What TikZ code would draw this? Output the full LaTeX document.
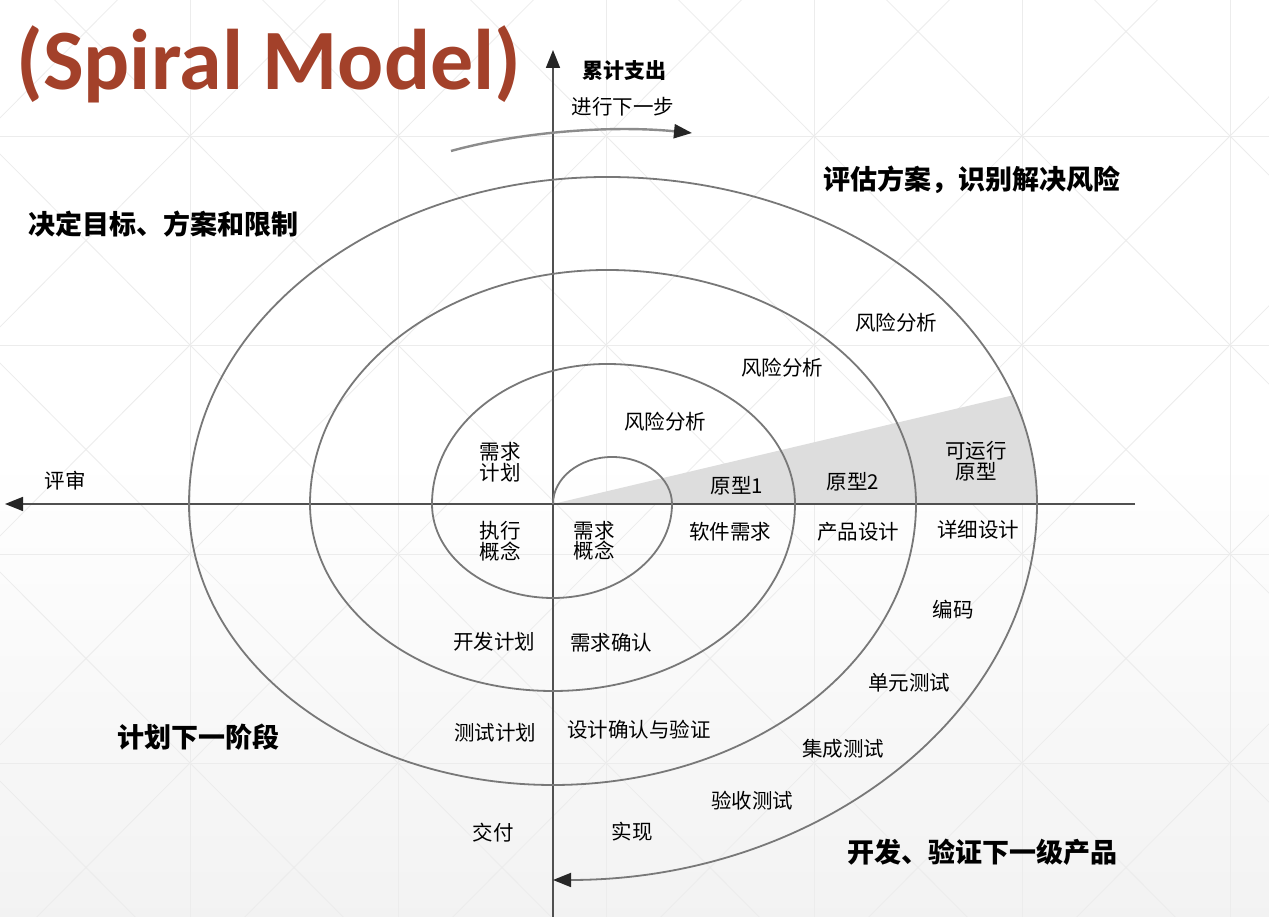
\documentclass[tikz,border=0pt]{standalone}
\usepackage{fontspec}
\newfontfamily\cjk{Noto Sans CJK SC}
\newfontfamily\titlefont{Carlito}
\usetikzlibrary{arrows.meta}
\definecolor{titlered}{RGB}{163,65,42}
\definecolor{spiralgray}{RGB}{120,120,120}
\definecolor{axisgray}{RGB}{80,80,80}
\definecolor{wedgegray}{RGB}{221,221,221}
\definecolor{gridgray}{RGB}{236,236,236}
\begin{document}
\begin{tikzpicture}[x=1pt,y=1pt,
  lbl/.style={font=\cjk\fontsize{20.5}{20.5}\selectfont, inner sep=0pt, align=center},
  head/.style={font=\cjk\bfseries\fontsize{27}{27}\selectfont, inner sep=0pt},
  spiral/.style={draw=spiralgray, line width=1.8pt},
  axisline/.style={draw=axisgray, line width=1.6pt},
  arrowtip/.style={-{Triangle[length=18pt,width=14pt,color=black!85]}}
]
\useasboundingbox (0,0) rectangle (1269,917);
% background
\fill[white] (0,0) rectangle (1269,917);
\shade[top color=white, bottom color=black!5] (0,0) rectangle (1269,460);
\begin{scope}
\clip (0,0) rectangle (1269,917);
\foreach \i in {-1,...,5}{
  \draw[gridgray, line width=0.8pt] ({190+208*\i},0) -- ({190+208*\i},917);
}
\foreach \j in {0,...,3}{
  \draw[gridgray, line width=0.8pt] (0,{154+209*\j}) -- (1269,{154+209*\j});
}
\foreach \i in {-1,...,5}{
  \foreach \j in {-1,...,3}{
    \draw[gridgray, line width=0.8pt] ({190+208*\i},{154+209*\j}) -- ({398+208*\i},{363+209*\j});
    \draw[gridgray, line width=0.8pt] ({190+208*\i},{363+209*\j}) -- ({398+208*\i},{154+209*\j});
  }
}
\end{scope}
% coordinates
\coordinate (O) at (553,413);
\coordinate (Ytop) at (553,867);
\coordinate (Ybot) at (553,0);
\coordinate (Xright) at (1135,413);
\coordinate (Xleft) at (5,413);
\coordinate (W) at (1012.6,521.6);
% shaded wedge
\fill[wedgegray] (O) -- (W) arc[start angle=19.4, end angle=0, x radius=430pt, y radius=327pt] -- cycle;
% axes
\draw[axisline, arrowtip] (Ybot) -- (Ytop);
\draw[axisline, arrowtip] (Xright) -- (Xleft);
% spiral
\draw[spiral, arrowtip] (O)
  arc[start angle=180, end angle=90, x radius=59pt, y radius=47pt]
  arc[start angle=90, end angle=0, x radius=60pt, y radius=47pt]
  arc[start angle=0, end angle=-90, x radius=119pt, y radius=94pt]
  arc[start angle=-90, end angle=-180, x radius=121pt, y radius=94pt]
  arc[start angle=180, end angle=90, x radius=175pt, y radius=140pt]
  arc[start angle=90, end angle=0, x radius=188pt, y radius=140pt]
  arc[start angle=0, end angle=-90, x radius=242pt, y radius=187pt]
  arc[start angle=-90, end angle=-180, x radius=243pt, y radius=187pt]
  arc[start angle=180, end angle=90, x radius=297pt, y radius=234pt]
  arc[start angle=90, end angle=0, x radius=309pt, y radius=234pt]
  arc[start angle=0, end angle=-90, x radius=363pt, y radius=281pt]
  arc[start angle=-90, end angle=-180, x radius=364pt, y radius=281pt]
  arc[start angle=180, end angle=90, x radius=418pt, y radius=327pt]
  arc[start angle=90, end angle=0, x radius=430pt, y radius=327pt]
  arc[start angle=0, end angle=-90, x radius=484pt, y radius=376pt];
% next-step arrow
\coordinate (Na) at (451,766);
\coordinate (Nb) at (692,784);
\draw[draw=black!45, line width=2.4pt, arrowtip] (Na) .. controls (520,785) and (610,792) .. (Nb);
% title
\node[font=\titlefont\bfseries\fontsize{86}{86}\selectfont, text=titlered, anchor=base west, inner sep=0pt] (title) at (16,827) {(Spiral Model)};
% axis labels
\node[font=\cjk\bfseries\fontsize{21}{21}\selectfont, inner sep=0pt] (cost) at (624,846) {累计支出};
\node[lbl] (next) at (623,810) {进行下一步};
\node[lbl] (review) at (65,436) {评审};
% quadrant headings
\node[head] (q1) at (972,737) {评估方案，识别解决风险};
\node[head] (q2) at (163,693) {决定目标、方案和限制};
\node[head] (q3) at (198,180) {计划下一阶段};
\node[head] (q4) at (982,65) {开发、验证下一级产品};
% labels
\node[lbl] (ra3) at (896,594) {风险分析};
\node[lbl] (ra2) at (782,549) {风险分析};
\node[lbl] (ra1) at (665,495) {风险分析};
\node[lbl] (reqplan) at (500,455) {需求\\计划};
\node[lbl] (execon) at (500,376) {执行\\概念};
\node[lbl] (reqcon) at (594,376) {需求\\概念};
\node[lbl] (proto1) at (737,431) {原型1};
\node[lbl] (proto2) at (853,435) {原型2};
\node[lbl] (proto3) at (976,456) {可运行\\原型};
\node[lbl] (swreq) at (730,385) {软件需求};
\node[lbl] (pdes) at (858,385) {产品设计};
\node[lbl] (ddes) at (978,387) {详细设计};
\node[lbl] (code) at (953,307) {编码};
\node[lbl] (utest) at (909,234) {单元测试};
\node[lbl] (itest) at (843,168) {集成测试};
\node[lbl] (atest) at (752,116) {验收测试};
\node[lbl] (impl) at (632,85) {实现};
\node[lbl] (deliv) at (493,84) {交付};
\node[lbl] (devplan) at (494,275) {开发计划};
\node[lbl] (reqval) at (611,274) {需求确认};
\node[lbl] (testplan) at (495,184) {测试计划};
\node[lbl] (desval) at (639,187) {设计确认与验证};
\end{tikzpicture}
\end{document}
